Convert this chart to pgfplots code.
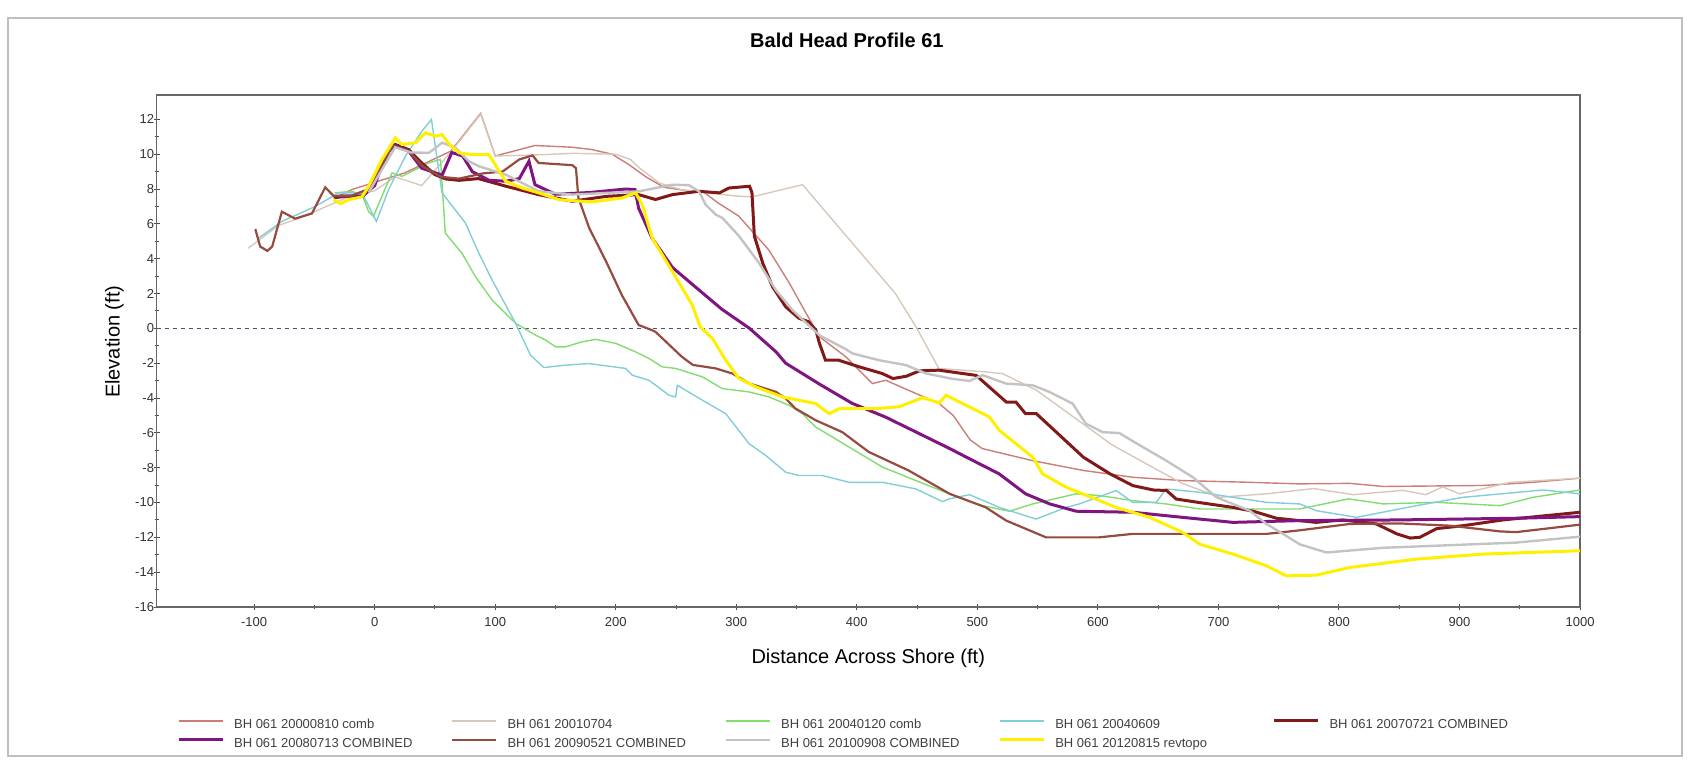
\documentclass[border=0pt]{standalone}
\usepackage{fontspec}
\setmainfont{Liberation Sans}
\usepackage{pgfplots}
\pgfplotsset{compat=1.18}
\definecolor{crosy}{RGB}{205,125,120}
\definecolor{ctan}{RGB}{215,200,185}
\definecolor{cgreen}{RGB}{130,220,110}
\definecolor{ccyan}{RGB}{130,205,215}
\definecolor{cmaroon}{RGB}{130,25,25}
\definecolor{cpurple}{RGB}{128,20,128}
\definecolor{cbrown}{RGB}{150,75,65}
\definecolor{cgray}{RGB}{195,195,195}
\definecolor{cyellow}{RGB}{255,240,0}
\definecolor{czero}{RGB}{80,80,120}
\begin{document}
\begin{tikzpicture}
\path[use as bounding box] (-78.25pt,-77.5pt) rectangle (766.25pt,303.5pt);
\draw[black!25, line width=0.8pt] (-74.25pt,-74.5pt) rectangle (762.75pt,294.5pt);
\begin{axis}[
  at={(0,0)}, anchor=south west,
  scale only axis, width=711.75pt, height=256pt,
  xmin=-181, xmax=1000, ymin=-16, ymax=13.4,
  xtick={-100,0,...,1000}, ytick={-16,-14,...,12},
  minor x tick num=1, minor y tick num=1,
  xtick pos=left, ytick pos=left,
  tick align=center, major tick length=3pt, minor tick length=2pt,
  tick style={black!70, line width=0.5pt},
  axis line style={black!60, line width=0.8pt},
  ticklabel style={font=\fontsize{6.5}{7}\selectfont, text=black!80},
  yticklabel style={xshift=3.8pt},
  /pgf/number format/assume math mode=true,
  /pgf/number format/1000 sep={},
  title={Bald Head Profile 61},
  title style={font=\bfseries\fontsize{10}{12}\selectfont, at={(axis description cs:0.485,1.084)}, anchor=center},
  xlabel={Distance Across Shore (ft)},
  xlabel style={font=\fontsize{10}{12}\selectfont, at={(axis description cs:0.5,-0.1)}, anchor=center},
  ylabel={Elevation (ft)},
  ylabel style={font=\fontsize{10}{12}\selectfont, at={(axis description cs:-0.0295,0.518)}, anchor=center},
  legend columns=5,
  legend cell align=left,
  legend image code/.code={\draw[#1] (0pt,2pt) -- (22pt,2pt);},
  legend style={at={(0,0)}, anchor=north west, xshift=10.1pt, yshift=-54.6pt,
    draw=none, fill=none, inner sep=0pt,
    font=\fontsize{6.5}{7}\selectfont, text=black!75,
    row sep=1.3pt,
    /tikz/every odd column/.append style={column sep=4pt},
    nodes={inner sep=1pt, text height=4.8pt, text depth=1.4pt}},
]
\addplot[forget plot, color=czero, dash pattern=on 2pt off 2pt, line width=0.5pt] coordinates {(-181,0) (1000,0)};

\addplot[color=crosy, line width=0.7pt] coordinates {
(-30,7.6) (-19,7.97) (25,8.93) (63,10.17) (88,12.35) (100,9.9) (133,10.5) (164,10.4) (180,10.27) (197,10.0) (211,9.4) (225,8.7) (240,8.1) (260,7.9) (272,7.87) (285,7.2) (302,6.45) (327,4.5) (344,2.6) (358,0.86) (369,-0.48) (391,-1.64) (413,-3.17) (424,-2.98) (441,-3.5) (468,-4.3) (480,-5.0) (494,-6.4) (504,-6.9) (546,-7.6) (588,-8.16) (629,-8.55) (670,-8.74) (726,-8.84) (767,-8.93) (809,-8.9) (837,-9.08) (920,-9.02) (961,-8.84) (1000,-8.6)};
\addlegendentry{\makebox[107.6pt][l]{BH 061 20000810 comb}}

\addplot[color=ctan, line width=0.7pt] coordinates {
(-105,4.6) (-80,5.9) (-60,6.4) (-40,7.0) (-20,7.6) (0,7.9) (17,8.7) (39,8.2) (64,10.2) (88,12.3) (100,9.9) (130,9.95) (165,10.05) (200,10.0) (212,9.7) (220,9.2) (236,8.35) (255,7.95) (280,7.75) (300,7.6) (313,7.55) (355,8.25) (432,2.0) (449,0.1) (468,-2.3) (507,-2.5) (521,-2.6) (549,-3.55) (576,-4.9) (612,-6.7) (646,-8.0) (670,-8.9) (701,-9.7) (740,-9.5) (779,-9.2) (812,-9.55) (853,-9.3) (872,-9.55) (886,-9.1) (900,-9.5) (920,-9.2) (942,-8.84) (1000,-8.6)};
\addlegendentry{\makebox[107.6pt][l]{BH 061 20010704}}

\addplot[color=cgreen, line width=0.7pt] coordinates {
(-33,7.78) (-19,7.87) (-10.5,7.68) (-5,6.7) (-1,6.43) (6,7.58) (14.4,8.93) (22.7,8.73) (33.8,9.12) (44.9,9.5) (54.6,9.7) (55.9,8.35) (58.6,5.47) (72.4,4.32) (83.6,2.97) (97.4,1.63) (116.9,0.29) (133.5,-0.39) (141.8,-0.67) (150.1,-1.06) (158.4,-1.06) (172.2,-0.77) (183.3,-0.63) (199.9,-0.86) (216.5,-1.35) (227.6,-1.73) (238.6,-2.21) (249.7,-2.3) (272,-2.79) (288.5,-3.46) (310.6,-3.65) (327.2,-3.94) (343.9,-4.42) (354.9,-4.9) (366,-5.67) (393.7,-6.82) (421.4,-7.97) (449,-8.74) (476.7,-9.5) (504.4,-10.18) (526.6,-10.5) (546,-10.08) (582,-9.5) (601.3,-9.6) (629,-9.89) (656.6,-10.08) (684.4,-10.37) (726,-10.37) (767.4,-10.37) (807.9,-9.79) (836.6,-10.08) (880.8,-9.99) (933.6,-10.18) (961.3,-9.7) (1000,-9.28)};
\addlegendentry{\makebox[107.6pt][l]{BH 061 20040120 comb}}

\addplot[color=ccyan, line width=0.7pt] coordinates {
(-96.3,5.18) (-77,6.14) (-49.3,7.0) (-29.9,7.78) (-10.5,7.78) (1.4,6.14) (11.6,7.97) (25.5,9.89) (39.3,11.33) (47.1,12.0) (55.9,7.78) (75.3,6.05) (86.4,4.32) (97.4,2.78) (116.9,0.29) (129.3,-1.54) (140.4,-2.25) (158.4,-2.11) (177.7,-2.02) (208.2,-2.3) (213.7,-2.69) (227.6,-2.98) (244.2,-3.84) (249.7,-3.94) (251.1,-3.27) (272,-4.13) (291.3,-4.9) (310.6,-6.62) (324.5,-7.3) (341,-8.26) (352.2,-8.45) (371.5,-8.45) (393.7,-8.84) (421.4,-8.84) (449,-9.22) (471.2,-9.95) (476.7,-9.79) (493.4,-9.55) (518.3,-10.28) (548.7,-10.95) (573.7,-10.28) (584.7,-10.08) (615.2,-9.31) (629,-9.99) (648.4,-9.99) (656.6,-9.22) (684.4,-9.41) (712,-9.7) (739.8,-9.99) (767.4,-10.08) (781.3,-10.47) (814.5,-10.85) (864.4,-10.18) (903,-9.7) (969.5,-9.28) (1000,-9.5)};
\addlegendentry{\makebox[107.6pt][l]{BH 061 20040609}}

\addplot[color=cmaroon, line width=1.5pt] coordinates {
(-34,7.5) (-22,7.6) (-10,7.58) (-5,7.97) (3,9.1) (12,10.27) (17,10.56) (28,10.27) (39,9.5) (50,8.83) (59,8.58) (70,8.5) (86,8.6) (109,8.16) (136,7.68) (164,7.3) (192,7.58) (219,7.68) (233,7.4) (247,7.68) (269,7.87) (286,7.78) (294,8.06) (311,8.16) (313,7.8) (315,5.3) (322,3.74) (330,2.4) (341,1.24) (352,0.58) (360,0.38) (366,-0.1) (369,-0.86) (374,-1.83) (385,-1.83) (402,-2.21) (421,-2.59) (430,-2.88) (441,-2.75) (452,-2.44) (468,-2.4) (499,-2.7) (524,-4.23) (532,-4.23) (540,-4.9) (549,-4.9) (588,-7.4) (610,-8.35) (629,-9.03) (646,-9.28) (657,-9.31) (665,-9.8) (684,-10.0) (712,-10.28) (729,-10.5) (748,-10.9) (781,-11.14) (803,-11.0) (831,-11.23) (848,-11.8) (859,-12.04) (867,-12.0) (881,-11.5) (903,-11.33) (936,-11.0) (1000,-10.56)};
\addlegendentry{\makebox[107.6pt][l]{BH 061 20070721 COMBINED}}

\addplot[color=cpurple, line width=1.5pt] coordinates {
(-30,7.6) (-10,7.6) (0,8.2) (5,9.2) (12,10.2) (17,10.5) (28,10.2) (39,9.2) (56,8.8) (64,10.1) (73,9.9) (81,9.0) (95,8.5) (109,8.45) (120,8.6) (128,9.6) (133,8.25) (150,7.7) (178,7.8) (208,8.0) (216,7.97) (219,6.9) (230,5.2) (247,3.5) (264,2.5) (288,1.1) (311,0) (333,-1.35) (341,-2.0) (369,-3.2) (396,-4.3) (424,-5.1) (452,-6.05) (477,-6.9) (491,-7.4) (518,-8.35) (540,-9.5) (560,-10.08) (582,-10.5) (629,-10.56) (670,-10.85) (712,-11.14) (767,-11.04) (850,-11.0) (950,-10.9) (1000,-10.81)};
\addlegendentry{\makebox[107.6pt][l]{BH 061 20080713 COMBINED}}

\addplot[color=cbrown, line width=1.1pt] coordinates {
(-99,5.7) (-95,4.7) (-89,4.45) (-85,4.7) (-77,6.7) (-66,6.3) (-52,6.6) (-41,8.1) (-34,7.6) (-20,7.6) (-5,8.0) (5,9.3) (15,10.5) (28,10.2) (40,9.3) (55,8.7) (70,8.6) (90,8.9) (106,9.0) (120,9.7) (131,9.93) (136,9.5) (164,9.37) (167,9.2) (169,7.5) (178,5.76) (192,3.84) (205,1.92) (219,0.19) (230,-0.1) (233,-0.2) (255,-1.64) (264,-2.1) (283,-2.3) (297,-2.6) (311,-3.17) (333,-3.65) (341,-4.03) (349,-4.6) (366,-5.28) (388,-5.96) (410,-7.1) (443,-8.16) (477,-9.5) (507,-10.28) (524,-11.04) (557,-12.0) (601,-12.0) (629,-11.8) (740,-11.8) (767,-11.6) (809,-11.23) (850,-11.2) (892,-11.33) (934,-11.66) (947,-11.7) (1000,-11.27)};
\addlegendentry{\makebox[107.6pt][l]{BH 061 20090521 COMBINED}}

\addplot[color=cgray, line width=1.2pt] coordinates {
(-5,7.8) (5,9.0) (17,10.4) (30,10.1) (45,10.08) (56,10.66) (67,10.37) (78,9.6) (86.4,9.31) (108.6,8.83) (125.2,8.25) (136.2,7.87) (163.9,7.68) (219.3,7.87) (247,8.25) (260.8,8.22) (269,7.87) (274.6,7.1) (283,6.53) (288.5,6.34) (302.3,5.3) (319,3.74) (332.8,2.2) (346.6,1.05) (369,-0.4) (391,-1.2) (396.4,-1.44) (418.6,-1.83) (440.8,-2.11) (457.4,-2.59) (479.5,-2.9) (493.4,-3.02) (504.4,-2.69) (523.8,-3.17) (546,-3.27) (559.8,-3.65) (579,-4.32) (590,-5.47) (604,-5.96) (617.7,-6.01) (634.4,-6.7) (656.6,-7.59) (678.8,-8.55) (698.3,-9.7) (726,-10.47) (739.8,-11.23) (753.6,-11.8) (767.4,-12.4) (789.6,-12.87) (836.6,-12.6) (947.4,-12.3) (1000,-11.96)};
\addlegendentry{\makebox[107.6pt][l]{BH 061 20100908 COMBINED}}

\addplot[color=cyellow, line width=1.5pt] coordinates {
(-34,7.39) (-28.5,7.16) (-21.6,7.39) (-10.5,7.55) (-5,8.16) (6.1,9.7) (17.2,10.94) (22.7,10.56) (33.8,10.66) (42.1,11.23) (50.4,11.04) (56,11.13) (61.5,10.6) (69.8,10.08) (80.8,9.98) (94.7,9.98) (108.6,8.45) (122.3,8.06) (136.2,7.78) (152.8,7.39) (180.5,7.26) (205.4,7.49) (216.5,7.78) (222,7.1) (230.3,5.18) (247,3.26) (263.5,1.34) (270,0.1) (280.2,-0.58) (291.3,-1.83) (302.3,-2.88) (316.1,-3.36) (338.3,-3.94) (366,-4.32) (377,-4.9) (385.4,-4.61) (415.9,-4.61) (435.2,-4.5) (454.6,-3.98) (468.4,-4.28) (474,-3.84) (510,-5.09) (518.3,-5.86) (546,-7.4) (554,-8.35) (573.7,-9.12) (601.3,-9.89) (615,-10.28) (643,-10.85) (670.5,-11.72) (684.4,-12.39) (712,-12.96) (739.8,-13.63) (756.4,-14.21) (781.3,-14.17) (809,-13.73) (864.4,-13.25) (919.7,-12.96) (1000,-12.77)};
\addlegendentry{\makebox[107.6pt][l]{BH 061 20120815 revtopo}}
\end{axis}
\end{tikzpicture}
\end{document}
